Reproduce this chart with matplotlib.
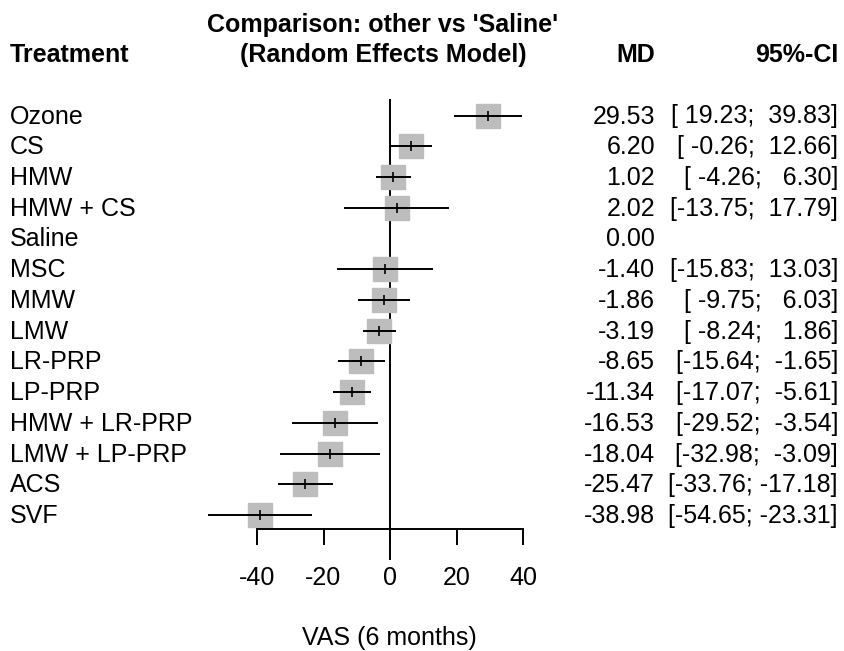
import numpy as np
import matplotlib.pyplot as plt

plt.rcParams['font.family'] = ['Liberation Sans', 'DejaVu Sans']

# data
treatments = ["Ozone", "CS", "HMW", "HMW + CS", "Saline", "MSC", "MMW", "LMW",
              "LR-PRP", "LP-PRP", "HMW + LR-PRP", "LMW + LP-PRP", "ACS", "SVF"]
md = [29.53, 6.20, 1.02, 2.02, 0.00, -1.40, -1.86, -3.19,
      -8.65, -11.34, -16.53, -18.04, -25.47, -38.98]
lower = [19.23, -0.26, -4.26, -13.75, np.nan, -15.83, -9.75, -8.24,
         -15.64, -17.07, -29.52, -32.98, -33.76, -54.65]
upper = [39.83, 12.66, 6.30, 17.79, np.nan, 13.03, 6.03, 1.86,
         -1.65, -5.61, -3.54, -3.09, -17.18, -23.31]
xticks = [-40, -20, 0, 20, 40]

W, H = 844, 651
fig = plt.figure(figsize=(W / 100, H / 100), dpi=100)
ax = fig.add_axes([0, 0, 1, 1])

# pixel mapping of the reference
x0, xs = 390, (523 - 257) / 80     # px of zero, px per unit
r0, rs = 115.5, (515 - 115.5) / 13  # px of first row, px per row
ax.set_xlim((0 - x0) / xs, (W - x0) / xs)
ax.set_ylim((H - r0) / rs, (0 - r0) / rs)

n = len(treatments)
rows = np.arange(n)
fs = 18
lw = 1.4

def fy(px):
    return 1 - px / H

# reference line at 0
ax.vlines(0, -0.54, n + 0.45, color="black", lw=lw)

for i in rows:
    if np.isnan(lower[i]):
        continue
    ax.plot(md[i], i, marker="s", ms=16.8, color="#bdbdbd", mec="#bdbdbd", ls="none", zorder=2)
    ax.hlines(i, lower[i], upper[i], color="black", lw=lw, zorder=3)
    ax.plot(md[i], i, marker="|", ms=7.5, mew=1.2, color="black", ls="none", zorder=4)

# x axis
for s in ["top", "left", "right"]:
    ax.spines[s].set_visible(False)
ax.spines["bottom"].set_position(("data", n - 0.53))
ax.spines["bottom"].set_bounds(min(xticks), max(xticks))
ax.spines["bottom"].set_linewidth(lw)
ax.set_xticks(xticks)
ax.set_xticklabels([str(t) for t in xticks], fontsize=fs)
ax.tick_params(axis="x", direction="out", length=11.5, width=lw, pad=15)
ax.set_yticks([])
ax.patch.set_visible(False)

# labels / columns
for i in rows:
    yy = fy(r0 + 1 + i * rs)
    fig.text(10 / W, yy, treatments[i], fontsize=fs, va="center", ha="left")
    fig.text(655 / W, yy, f"{md[i]:.2f}", fontsize=fs, va="center", ha="right")
    if not np.isnan(lower[i]):
        ci = "[" + f"{lower[i]:6.2f}" + "; " + f"{upper[i]:6.2f}" + "]"
        fig.text(838 / W, yy, ci, fontsize=fs, va="center", ha="right")

# headers
fig.text(10 / W, fy(62), "Treatment", fontsize=fs, fontweight="bold", va="baseline", ha="left")
fig.text(383 / W, fy(32), "Comparison: other vs 'Saline'", fontsize=fs, fontweight="bold",
         va="baseline", ha="center")
fig.text(383 / W, fy(62), "(Random Effects Model)", fontsize=fs, fontweight="bold",
         va="baseline", ha="center")
fig.text(655 / W, fy(62), "MD", fontsize=fs, fontweight="bold", va="baseline", ha="right")
fig.text(838 / W, fy(62), "95%-CI", fontsize=fs, fontweight="bold", va="baseline", ha="right")

fig.text(389 / W, fy(638), "VAS (6 months)", fontsize=fs, va="center", ha="center")

fig.savefig("out.png", dpi=100)
